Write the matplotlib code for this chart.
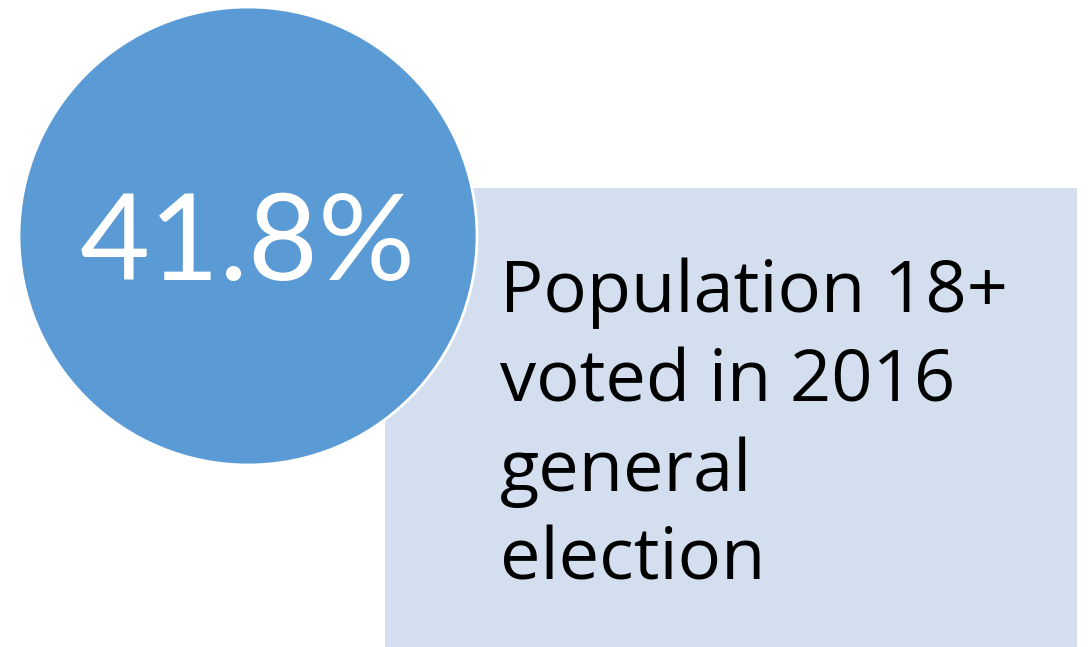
import matplotlib
matplotlib.use("Agg")
import matplotlib.pyplot as plt
from matplotlib.patches import Circle, Rectangle

value = 41.8
value_label = f"{value:.1f}%"
caption_lines = ["Population 18+", "voted in 2016", "general", "election"]

W, H = 1088, 647
fig = plt.figure(figsize=(W / 100, H / 100), dpi=100)
ax = fig.add_axes([0, 0, 1, 1])
ax.set_xlim(0, W)
ax.set_ylim(H, 0)
ax.axis("off")

ax.add_patch(Rectangle((385, 188), 692, 470, facecolor="#D3DFEF", edgecolor="none", zorder=1))
ax.add_patch(Circle((248, 236), 229, facecolor="#5B9BD5", edgecolor="white", linewidth=2, zorder=2))

ax.text(248, 280, value_label, color="white", fontsize=87, family="Lato",
        ha="center", va="baseline", zorder=3)

y0 = 312
for i, line in enumerate(caption_lines):
    ax.text(500, y0 + i * 89.3, line, color="black", fontsize=52, family="Open Sans",
            ha="left", va="baseline", zorder=3)

fig.savefig("out.png", dpi=100)
